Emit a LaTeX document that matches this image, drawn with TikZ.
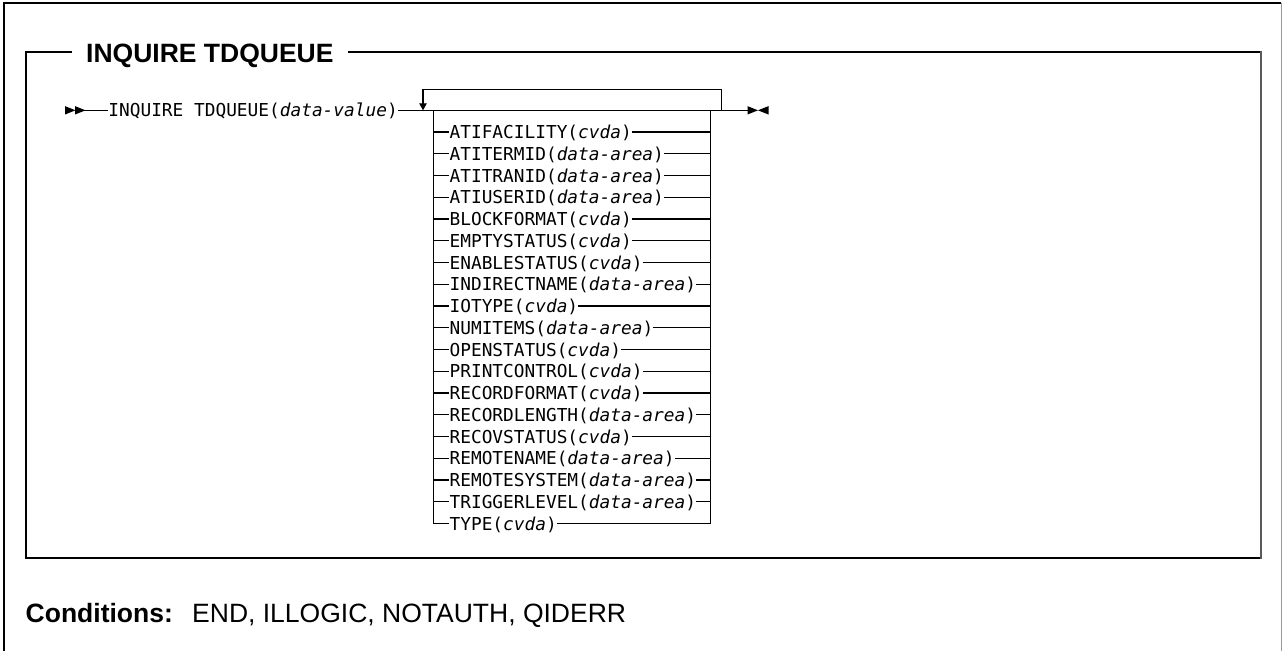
\documentclass[tikz,border=0pt]{standalone}
\usepackage{fontspec}
\setmainfont{Liberation Sans}
\newfontfamily\railfont{DejaVu Sans Mono}
\usetikzlibrary{calc, positioning}
\usetikzlibrary{arrows.meta}
\definecolor{shadegray}{gray}{0.35}
\definecolor{edgegray}{gray}{0.6}

\begin{document}
\begin{tikzpicture}[x=1pt, y=-1pt,
  rail/.style={line width=1.2pt, black},
  syntax/.style={font={\railfont\fontsize{17.8pt}{20pt}\selectfont}, inner sep=0pt, text height=13pt, text depth=0pt, anchor=west},
  heading/.style={font={\bfseries\fontsize{26.5pt}{30pt}\selectfont}, fill=white, inner xsep=14pt, inner ysep=0pt, text height=19pt, text depth=0pt, anchor=west},
  condtext/.style={font={\fontsize{26.5pt}{30pt}\selectfont}, inner sep=0pt, anchor=base west},
  headR/.pic={\fill (0,-4.2) -- (10.5,0) -- (0,4.2) -- cycle;},
  headL/.pic={\fill (10.5,-4.2) -- (0,0) -- (10.5,4.2) -- cycle;}]
\def\mainy{110.3}
\def\rowsep{21.75}
\def\loopRise{21}

\useasboundingbox (0,0) rectangle (1283,651);

\coordinate (start) at (65,\mainy);
\coordinate (lead) at (84,\mainy);
\coordinate (loopL) at (423,\mainy);
\coordinate (boxL) at (433.4,\mainy);
\coordinate (boxR) at (710.7,\mainy);
\coordinate (loopR) at (721.5,\mainy);
\coordinate (finish) at (747.5,\mainy);

\draw[line width=1.7pt] (4,651) -- (4,2.7) -- (1281,2.7);
\draw[edgegray, line width=1pt] (1281,2.7) -- (1281,651);

\draw[line width=2pt] (1261,51.7) -- (26,51.7) -- (26,558.3) -- (1261,558.3);
\draw[shadegray, line width=2.7pt] (1261,50.7) -- (1261,559.3);
\node[heading] (title) at (72,53) {INQUIRE TDQUEUE};

\pic at (start) {headR};
\pic at ($(start)+(10,0)$) {headR};
\node[syntax] (cmd) at (108.2,\mainy) {INQUIRE TDQUEUE(\textit{data-value})};
\draw[rail] (lead) -- (cmd.west);
\draw[rail] (cmd.east) -- (finish);
\draw[rail, -{Triangle[length=7pt, width=7.4pt]}] (loopR) -- ++(0,-\loopRise) -| (loopL);
\pic at (finish) {headR};
\pic at ($(finish)+(10.5,0)$) {headL};

\foreach \kw/\arg [count=\i] in {ATIFACILITY/cvda, ATITERMID/data-area, ATITRANID/data-area,
    ATIUSERID/data-area, BLOCKFORMAT/cvda, EMPTYSTATUS/cvda, ENABLESTATUS/cvda,
    INDIRECTNAME/data-area, IOTYPE/cvda, NUMITEMS/data-area, OPENSTATUS/cvda,
    PRINTCONTROL/cvda, RECORDFORMAT/cvda, RECORDLENGTH/data-area, RECOVSTATUS/cvda,
    REMOTENAME/data-area, REMOTESYSTEM/data-area, TRIGGERLEVEL/data-area, TYPE/cvda}
  \node[syntax] (item\i) at (449.4,{\mainy+\rowsep*\i}) {\kw(\textit{\arg})};

\foreach \i in {1,...,18}
  \draw[rail] (boxL |- item\i.west) -- (item\i.west) (item\i.east) -- (boxR |- item\i.east);
\draw[rail] (boxL) |- (item19.west);
\draw[rail] (item19.east) -| (boxR);

\node[condtext] (cond) at (25.5,622.3) {\textbf{Conditions:}};
\node[condtext] (condlist) at (192,622.3) {END, ILLOGIC, NOTAUTH, QIDERR};
\end{tikzpicture}
\end{document}
